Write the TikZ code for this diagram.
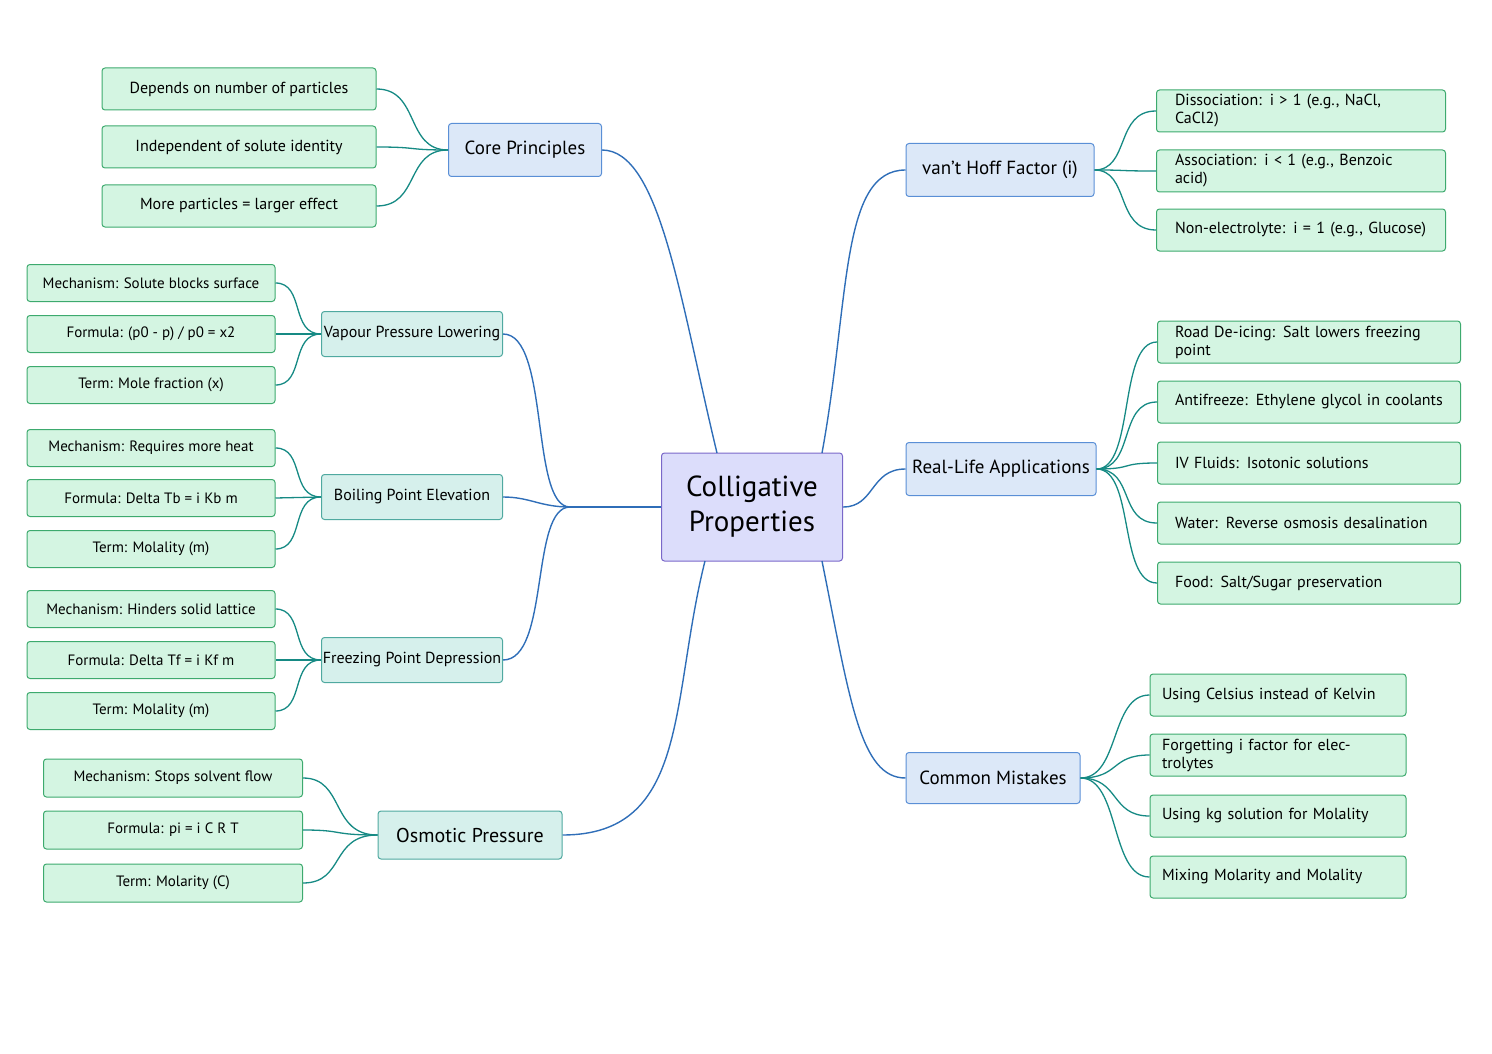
\documentclass[tikz,border=0pt]{standalone}
\usepackage{fontspec}
\setmainfont{PT Sans}
\definecolor{lf}{HTML}{D4F5E2}
\definecolor{ld}{HTML}{3DAA6E}
\definecolor{bf}{HTML}{DCE8F8}
\definecolor{bd}{HTML}{5A8FD6}
\definecolor{gf}{HTML}{D6F0EC}
\definecolor{gd}{HTML}{4FA9A0}
\definecolor{cf}{HTML}{DCDDFB}
\definecolor{cd}{HTML}{7A68C9}
\definecolor{me}{HTML}{2F6EB8}
\definecolor{le}{HTML}{168A84}
\begin{document}
\begin{tikzpicture}[x=1pt,y=-1pt,
  box/.style={draw, rounded corners=3pt, line width=1pt, inner sep=0pt, align=center},
  leaf/.style={box, draw=ld, fill=lf, font=\fontsize{16}{18}\selectfont},
  sleaf/.style={leaf, font=\fontsize{15}{17}\selectfont},
  br/.style={box, draw=bd, fill=bf, font=\fontsize{19}{21}\selectfont},
  gbr/.style={box, draw=gd, fill=gf, font=\fontsize{16}{18}\selectfont},
  ce/.style={box, draw=cd, fill=cf, font=\fontsize{29}{35}\selectfont},
  me/.style={draw=me, line width=1.4pt},
  le/.style={draw=le, line width=1.3pt}]
\useasboundingbox (0,0) rectangle (1492,1054);
\node[ce, minimum width=181pt, minimum height=108pt] (c) at (752,507) {Colligative\\Properties};
% branches
\node[br, minimum width=153pt, minimum height=53pt] (cp) at (525,150) {Core Principles};
\node[br, minimum width=188pt, minimum height=53pt] (vh) at (1000,170) {van't Hoff Factor (i)};
\node[br, minimum width=190pt, minimum height=53pt] (rl) at (1001,469) {Real-Life Applications};
\node[br, minimum width=174pt, minimum height=51pt] (cm) at (993,778) {Common Mistakes};
\node[gbr, minimum width=181pt, minimum height=45pt] (vp) at (412,334) {Vapour Pressure Lowering};
\node[gbr, minimum width=181pt, minimum height=45pt] (bp) at (412,497) {Boiling Point Elevation};
\node[gbr, minimum width=181pt, minimum height=45pt] (fp) at (412,660) {Freezing Point Depression};
\node[gbr, minimum width=184pt, minimum height=48pt, font=\fontsize{20}{22}\selectfont] (op) at (470,835) {Osmotic Pressure};
% main edges
\draw[me] (717,453) .. controls (680,300) and (660,150) .. (cp.east);
\draw[me] (822,453) .. controls (850,300) and (840,170) .. (vh.west);
\draw[me] (c.east) .. controls (875,507) and (870,469) .. (rl.west);
\draw[me] (822,561) .. controls (850,700) and (860,778) .. (cm.west);
\draw[me] (705,561) .. controls (670,700) and (690,835) .. (op.east);
\draw[me] (c.west) -- (570,507);
\draw[me] (570,507) .. controls (530,507) and (550,334) .. (vp.east);
\draw[me] (570,507) .. controls (540,507) and (530,497) .. (bp.east);
\draw[me] (570,507) .. controls (530,507) and (550,660) .. (fp.east);
% leaves
\foreach \n/\y/\t in {a/89/Depends on number of particles, b/147/Independent of solute identity, d/206/More particles = larger effect}{
  \node[leaf, minimum width=274pt, minimum height=42pt] (cp\n) at (239,\y) {\t};
  \draw[le] (cp\n.east) .. controls (420,\y) and (405,150) .. (cp.west);}
\foreach \n/\y/\t in {a/111/{Dissociation: i > 1 (e.g., NaCl, CaCl2)}, b/171/{Association: i < 1 (e.g., Benzoic acid)}, d/230/{Non-electrolyte: i = 1 (e.g., Glucose)}}{
  \node[leaf, minimum width=289pt, minimum height=42pt, text width=252pt, align=left] (vh\n) at (1301,\y) {\t};
  \draw[le] (vh.east) .. controls (1130,170) and (1115,\y) .. (vh\n.west);}
\foreach \n/\y/\t in {a/342/{Road De-icing: Salt lowers freezing point}, b/402/{Antifreeze: Ethylene glycol in coolants}, d/463/{IV Fluids: Isotonic solutions}, e/523/{Water: Reverse osmosis desalination}, f/583/{Food: Salt/Sugar preservation}}{
  \node[leaf, minimum width=303pt, minimum height=42pt, text width=268pt, align=left] (rl\n) at (1309,\y) {\t};
  \draw[le] (rl.east) .. controls (1135,469) and (1118,\y) .. (rl\n.west);}
\foreach \n/\y/\t in {a/695/{Using Celsius instead of Kelvin}, b/755/{Forgetting i factor for electrolytes}, d/816/{Using kg solution for Molality}, e/877/{Mixing Molarity and Molality}}{
  \node[leaf, minimum width=256pt, minimum height=42pt, text width=232pt, align=left] (cm\n) at (1278,\y) {\t};
  \draw[le] (cm.east) .. controls (1120,778) and (1110,\y) .. (cm\n.west);}
\foreach \br/\yb/\ya/\yy/\yc/\ta/\tb/\tc in {
  vp/334/283/334/385/{Mechanism: Solute blocks surface}/{Formula: (p0 - p) / p0 = x2}/{Term: Mole fraction (x)},
  bp/497/448/498/549/{Mechanism: Requires more heat}/{Formula: Delta Tb = i Kb m}/{Term: Molality (m)},
  fp/660/609/660/711/{Mechanism: Hinders solid lattice}/{Formula: Delta Tf = i Kf m}/{Term: Molality (m)}}{
  \node[sleaf, minimum width=248pt, minimum height=37pt] (\br a) at (151,\ya) {\ta};
  \node[sleaf, minimum width=248pt, minimum height=37pt] (\br b) at (151,\yy) {\tb};
  \node[sleaf, minimum width=248pt, minimum height=37pt] (\br c) at (151,\yc) {\tc};
  \draw[le] (\br a.east) .. controls (305,\ya) and (290,\yb) .. (\br.west);
  \draw[le] (\br b.east) -- (\br.west);
  \draw[le] (\br c.east) .. controls (305,\yc) and (290,\yb) .. (\br.west);}
\foreach \n/\y/\t in {a/778/{Mechanism: Stops solvent flow}, b/830/{Formula: pi = i C R T}, d/883/{Term: Molarity (C)}}{
  \node[sleaf, minimum width=259pt, minimum height=38pt] (op\n) at (173,\y) {\t};
  \draw[le] (op\n.east) .. controls (345,\y) and (330,835) .. (op.west);}
\end{tikzpicture}
\end{document}
